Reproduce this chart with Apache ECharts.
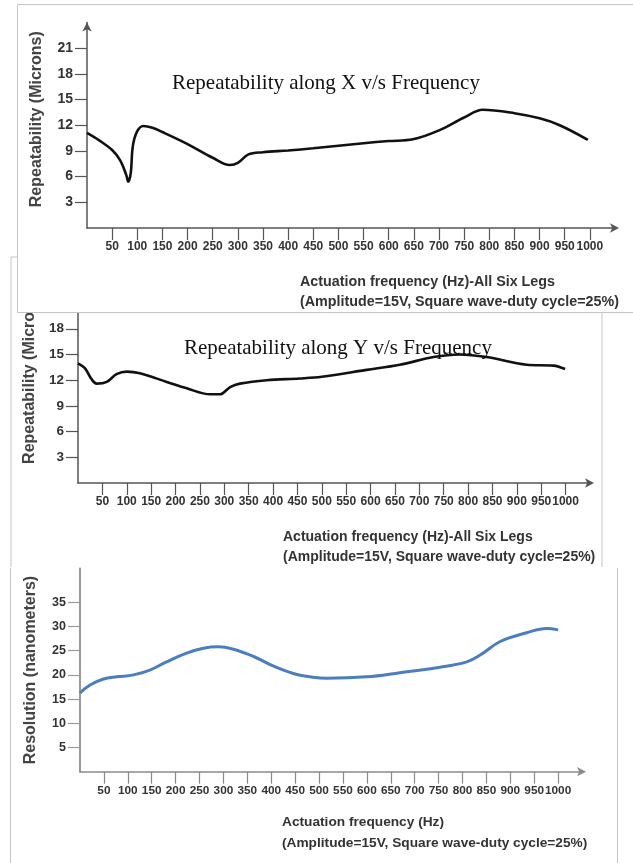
<!DOCTYPE html>
<html><head><meta charset="utf-8">
<script src="https://cdn.jsdelivr.net/npm/echarts@6/dist/echarts.min.js"></script>
<style>html,body{margin:0;padding:0;background:#fff}#c{width:633px;height:863px}</style>
</head><body><div id="c"></div>
<script>
// ---- data ----
const titleX = 'Repeatability along X v/s Frequency';
const titleY = 'Repeatability along Y v/s Frequency';
const xNameLegs = 'Actuation frequency (Hz)-All Six Legs\n(Amplitude=15V, Square wave-duty cycle=25%)';
const xNameRes = 'Actuation frequency (Hz)\n(Amplitude=15V, Square wave-duty cycle=25%)';
const yNameRep = 'Repeatability (Microns)';
const yNameRes = 'Resolution (nanometers)';
const xTicks = [50,100,150,200,250,300,350,400,450,500,550,600,650,700,750,800,850,900,950,1000];
const yTicksRep = [3,6,9,12,15,18,21];
const yTicksRepY = [3,6,9,12,15,18];
const yTicksRes = [5,10,15,20,25,30,35];

const freqX = [0,25,50,66,78,82,87,91,99,112,130,150,200,250,284,300,321,350,400,450,500,550,600,648,700,750,787,850,900,940,996];
const repX  = [11.1,10.2,9.1,7.9,6.2,5.4,6.4,9.5,11.2,11.9,11.7,11.2,9.8,8.2,7.35,7.6,8.6,8.85,9.05,9.3,9.6,9.9,10.15,10.35,11.4,12.9,13.8,13.4,12.8,12.0,10.3];

const freqY = [0,14,28,38,59,79,100,127,182,223,271,291,312,332,387,455,500,592,660,729,783,838,920,975,999];
const repY  = [13.97,13.4,12.1,11.6,11.8,12.7,13.0,12.8,11.8,11.05,10.35,10.35,11.2,11.6,12.0,12.2,12.4,13.2,13.8,14.7,15.0,14.7,13.8,13.7,13.3];

const freqR = [0,21,49,77,112,146,181,223,258,289,321,363,405,446,488,516,600,669,753,809,837,879,934,976,1000];
const resR  = [16.3,17.9,19.15,19.6,20.0,21.0,22.7,24.5,25.5,25.8,25.3,23.8,21.8,20.3,19.5,19.3,19.6,20.45,21.6,22.7,24.1,26.9,28.7,29.6,29.3];

const zip = (a,b)=>a.map((v,i)=>[v,b[i]]);

// ---- styles ----
const SANS = 'Liberation Sans, Arial, sans-serif';
const SERIF = 'Liberation Serif, Times New Roman, serif';
const fmt = v => String(v);

function xAx(grid, lineColor, z, fs){
  return {type:'value', gridIndex:grid, min:0, max:1050, z:z,
    axisLine:{show:true, onZero:false, lineStyle:{color:lineColor,width:1.5}, symbol:['none','arrow'], symbolSize:[7,9], symbolOffset:[0,4]},
    axisTick:{show:true, length:12, customValues:xTicks, lineStyle:{color:lineColor,width:1.2}},
    axisLabel:{margin:13, customValues:xTicks, formatter:fmt, fontFamily:SANS, fontWeight:'bold', fontSize:fs, color:'#333'},
    splitLine:{show:false}};
}
function yAx(grid, max, ticks, lineColor, name, gap, arrow, z, lw, fs, shift){
  return {type:'value', gridIndex:grid, min:0, max:max, z:z,
    name:name, nameLocation:'middle', nameGap:gap, nameRotate:90,
    nameTextStyle:{fontFamily:SANS, fontWeight:'bold', fontSize:16, color:'#444', padding:[0,0,0,shift||0]},
    axisLine:{show:true, onZero:false, lineStyle:{color:lineColor,width:lw||1.5}, symbol:arrow?['none','arrow']:['none','none'], symbolSize:[7,9]},
    axisTick:{show:true, length:12, customValues:ticks, lineStyle:{color:lineColor,width:1.2}},
    axisLabel:{margin:14, customValues:ticks, formatter:fmt, fontFamily:SANS, fontWeight:'bold', fontSize:fs, color:'#333'},
    splitLine:{show:false}};
}
const subStyle = fs => ({fontFamily:SANS, fontWeight:'bold', fontSize:fs, lineHeight:20, color:'#333'});
const titleStyle = {fontFamily:SERIF, fontWeight:'normal', fontSize:21, color:'#111'};

const chart = echarts.init(document.getElementById('c'), null, {renderer:'canvas'});
chart.setOption({
  backgroundColor:'#fff',
  animation:false,
  grid:[
    {left:87, top:22.4, width:528, height:205.6, outerBoundsMode:'none'},
    {left:78, top:268.8, width:512, height:214.2, outerBoundsMode:'none'},
    {left:80, top:568.4, width:502, height:203.3, outerBoundsMode:'none'}
  ],
  xAxis:[xAx(0,'#555',3,12), xAx(1,'#555',0,12), xAx(2,'#8a8a8a',0,11.8)],
  yAxis:[
    yAx(0,24,yTicksRep,'#555',yNameRep,42,true,3,1.5,14,12),
    yAx(1,25,yTicksRepY,'#555',yNameRep,40,true,0,1.5,13.5,0),
    yAx(2,42,yTicksRes,'#9a9a9a',yNameRes,41,false,0,2,12.5,0)
  ],
  title:[
    {text:titleX, left:172, top:73, padding:0, z:8, textStyle:titleStyle},
    {text:titleY, left:184, top:338, padding:0, z:8, textStyle:titleStyle},
    {text:xNameLegs, left:300, top:272, padding:0, z:8, textStyle:subStyle(14.3)},
    {text:xNameLegs, left:283, top:527, padding:0, z:2, textStyle:subStyle(14)},
    {text:xNameRes, left:282, top:812, padding:0, z:2, textStyle:Object.assign(subStyle(13.7),{lineHeight:21})}
  ],
  graphic:[
    {type:'polyline', z:0, silent:true, shape:{points:[[11,567],[11,257],[602,257],[602,567]]}, style:{fill:null, stroke:'#c4c4c4', lineWidth:1}},
    {type:'rect', z:1, silent:true, shape:{x:17.5,y:4.5,width:640,height:308}, style:{fill:'#fff', stroke:'#c4c4c4', lineWidth:1}},
    {type:'line', z:0, silent:true, shape:{x1:10.5,y1:568,x2:10.5,y2:863}, style:{stroke:'#c4c4c4', lineWidth:1}},
    {type:'line', z:0, silent:true, shape:{x1:617.5,y1:568,x2:617.5,y2:863}, style:{stroke:'#c4c4c4', lineWidth:1}}
  ],
  series:[
    {type:'line', xAxisIndex:0, yAxisIndex:0, z:4, data:zip(freqX,repX), smooth:0.35, showSymbol:false, lineStyle:{color:'#111', width:2.6}},
    {type:'line', xAxisIndex:1, yAxisIndex:1, z:2, data:zip(freqY,repY), smooth:0.35, showSymbol:false, lineStyle:{color:'#111', width:2.6}},
    {type:'line', xAxisIndex:2, yAxisIndex:2, z:2, data:zip(freqR,resR), smooth:0.4, showSymbol:false, lineStyle:{color:'#4a7ebf', width:3}}
  ]
});
</script></body></html>
